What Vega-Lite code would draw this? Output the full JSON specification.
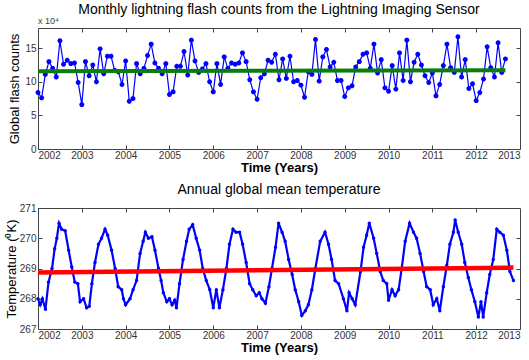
{
  "$schema": "https://vega.github.io/schema/vega-lite/v6.json",
  "padding": {"left": 4, "top": 2, "right": 0, "bottom": 2},
  "background": "white",
  "spacing": 7,
  "config": {
    "font": "Liberation Sans",
    "view": {"stroke": "#444", "strokeWidth": 1},
    "axis": {
      "grid": false, "domain": false, "tickSize": -4, "tickColor": "#444", "labelPadding": 6,
      "labelFont": "Liberation Sans", "labelFontSize": 10, "labelColor": "#333",
      "titleFont": "Liberation Sans", "titleFontSize": 13, "titleFontWeight": "normal", "titleColor": "#000"
    },
    "axisX": {"labelPadding": 5},
    "title": {"font": "Liberation Sans", "fontSize": 14, "fontWeight": "normal", "color": "#000", "offset": 0}
  },
  "datasets": {
    "flash": [
      {"t": 2002.000, "v": 8.4}, {"t": 2002.083, "v": 7.6}, {"t": 2002.167, "v": 11.1}, {"t": 2002.250, "v": 13.0},
      {"t": 2002.333, "v": 12.0}, {"t": 2002.417, "v": 10.7}, {"t": 2002.500, "v": 16.1}, {"t": 2002.583, "v": 12.6},
      {"t": 2002.667, "v": 13.2}, {"t": 2002.750, "v": 12.7}, {"t": 2002.833, "v": 12.8}, {"t": 2002.917, "v": 9.9},
      {"t": 2003.000, "v": 6.6}, {"t": 2003.083, "v": 13.0}, {"t": 2003.167, "v": 10.9}, {"t": 2003.250, "v": 12.5},
      {"t": 2003.333, "v": 10.0}, {"t": 2003.417, "v": 14.9}, {"t": 2003.500, "v": 11.2}, {"t": 2003.583, "v": 13.8},
      {"t": 2003.667, "v": 13.8}, {"t": 2003.750, "v": 11.7}, {"t": 2003.833, "v": 11.5}, {"t": 2003.917, "v": 9.6},
      {"t": 2004.000, "v": 13.1}, {"t": 2004.083, "v": 7.1}, {"t": 2004.167, "v": 7.5}, {"t": 2004.250, "v": 12.7},
      {"t": 2004.333, "v": 11.2}, {"t": 2004.417, "v": 12.0}, {"t": 2004.500, "v": 13.9}, {"t": 2004.583, "v": 15.6},
      {"t": 2004.667, "v": 12.8}, {"t": 2004.750, "v": 12.0}, {"t": 2004.833, "v": 11.2}, {"t": 2004.917, "v": 12.7},
      {"t": 2005.000, "v": 8.1}, {"t": 2005.083, "v": 8.5}, {"t": 2005.167, "v": 12.3}, {"t": 2005.250, "v": 12.3},
      {"t": 2005.333, "v": 14.5}, {"t": 2005.417, "v": 11.0}, {"t": 2005.500, "v": 16.2}, {"t": 2005.583, "v": 13.1},
      {"t": 2005.667, "v": 11.4}, {"t": 2005.750, "v": 11.9}, {"t": 2005.833, "v": 12.7}, {"t": 2005.917, "v": 10.0},
      {"t": 2006.000, "v": 8.5}, {"t": 2006.083, "v": 12.7}, {"t": 2006.167, "v": 9.6}, {"t": 2006.250, "v": 13.7},
      {"t": 2006.333, "v": 12.0}, {"t": 2006.417, "v": 12.8}, {"t": 2006.500, "v": 12.6}, {"t": 2006.583, "v": 12.8},
      {"t": 2006.667, "v": 14.3}, {"t": 2006.750, "v": 13.0}, {"t": 2006.833, "v": 10.3}, {"t": 2006.917, "v": 8.5},
      {"t": 2007.000, "v": 7.4}, {"t": 2007.083, "v": 10.6}, {"t": 2007.167, "v": 11.2}, {"t": 2007.250, "v": 13.2},
      {"t": 2007.333, "v": 12.9}, {"t": 2007.417, "v": 14.1}, {"t": 2007.500, "v": 10.3}, {"t": 2007.583, "v": 13.4},
      {"t": 2007.667, "v": 10.5}, {"t": 2007.750, "v": 13.8}, {"t": 2007.833, "v": 10.0}, {"t": 2007.917, "v": 10.2},
      {"t": 2008.000, "v": 9.5}, {"t": 2008.083, "v": 7.7}, {"t": 2008.167, "v": 11.5}, {"t": 2008.250, "v": 11.1},
      {"t": 2008.333, "v": 16.3}, {"t": 2008.417, "v": 10.1}, {"t": 2008.500, "v": 13.7}, {"t": 2008.583, "v": 14.8},
      {"t": 2008.667, "v": 12.2}, {"t": 2008.750, "v": 12.9}, {"t": 2008.833, "v": 10.2}, {"t": 2008.917, "v": 10.2},
      {"t": 2009.000, "v": 7.8}, {"t": 2009.083, "v": 9.1}, {"t": 2009.167, "v": 9.4}, {"t": 2009.250, "v": 12.2},
      {"t": 2009.333, "v": 13.0}, {"t": 2009.417, "v": 14.1}, {"t": 2009.500, "v": 14.3}, {"t": 2009.583, "v": 12.0},
      {"t": 2009.667, "v": 15.6}, {"t": 2009.750, "v": 11.3}, {"t": 2009.833, "v": 13.3}, {"t": 2009.917, "v": 9.1},
      {"t": 2010.000, "v": 8.6}, {"t": 2010.083, "v": 12.4}, {"t": 2010.167, "v": 8.9}, {"t": 2010.250, "v": 14.3},
      {"t": 2010.333, "v": 10.2}, {"t": 2010.417, "v": 16.2}, {"t": 2010.500, "v": 10.0}, {"t": 2010.583, "v": 12.9},
      {"t": 2010.667, "v": 14.1}, {"t": 2010.750, "v": 12.5}, {"t": 2010.833, "v": 10.9}, {"t": 2010.917, "v": 9.9},
      {"t": 2011.000, "v": 11.3}, {"t": 2011.083, "v": 7.9}, {"t": 2011.167, "v": 9.6}, {"t": 2011.250, "v": 12.4},
      {"t": 2011.333, "v": 15.6}, {"t": 2011.417, "v": 12.1}, {"t": 2011.500, "v": 11.4}, {"t": 2011.583, "v": 16.7},
      {"t": 2011.667, "v": 10.7}, {"t": 2011.750, "v": 13.3}, {"t": 2011.833, "v": 9.0}, {"t": 2011.917, "v": 9.7},
      {"t": 2012.000, "v": 7.2}, {"t": 2012.083, "v": 8.4}, {"t": 2012.167, "v": 10.4}, {"t": 2012.250, "v": 15.2},
      {"t": 2012.333, "v": 12.1}, {"t": 2012.417, "v": 10.7}, {"t": 2012.500, "v": 15.8}, {"t": 2012.583, "v": 11.4},
      {"t": 2012.667, "v": 13.4}
    ],
    "flashTrend": [{"t": 2002.0, "v": 11.55}, {"t": 2012.667, "v": 11.72}],
    "temp": [
      {"t": 2002.00, "v": 268.0}, {"t": 2002.05, "v": 267.8}, {"t": 2002.10, "v": 268.0}, {"t": 2002.17, "v": 267.65},
      {"t": 2002.24, "v": 268.55}, {"t": 2002.32, "v": 269.0}, {"t": 2002.38, "v": 269.65}, {"t": 2002.43, "v": 270.0},
      {"t": 2002.48, "v": 270.5}, {"t": 2002.54, "v": 270.3}, {"t": 2002.62, "v": 270.25}, {"t": 2002.70, "v": 269.6},
      {"t": 2002.77, "v": 269.05}, {"t": 2002.84, "v": 268.55}, {"t": 2002.91, "v": 268.5}, {"t": 2002.96, "v": 267.9},
      {"t": 2003.04, "v": 268.0}, {"t": 2003.11, "v": 267.7}, {"t": 2003.17, "v": 267.75}, {"t": 2003.23, "v": 268.5},
      {"t": 2003.30, "v": 269.2}, {"t": 2003.38, "v": 269.8}, {"t": 2003.45, "v": 270.0}, {"t": 2003.53, "v": 270.3},
      {"t": 2003.59, "v": 270.1}, {"t": 2003.68, "v": 269.6}, {"t": 2003.76, "v": 269.0}, {"t": 2003.83, "v": 268.4},
      {"t": 2003.91, "v": 268.3}, {"t": 2003.95, "v": 268.0}, {"t": 2004.00, "v": 267.8}, {"t": 2004.10, "v": 268.0},
      {"t": 2004.17, "v": 268.3}, {"t": 2004.25, "v": 268.6}, {"t": 2004.33, "v": 269.5}, {"t": 2004.40, "v": 269.9},
      {"t": 2004.45, "v": 270.2}, {"t": 2004.52, "v": 270.0}, {"t": 2004.60, "v": 270.05}, {"t": 2004.67, "v": 269.6},
      {"t": 2004.75, "v": 269.0}, {"t": 2004.81, "v": 268.6}, {"t": 2004.86, "v": 268.2}, {"t": 2004.94, "v": 267.9},
      {"t": 2005.00, "v": 268.0}, {"t": 2005.06, "v": 267.8}, {"t": 2005.12, "v": 267.95}, {"t": 2005.16, "v": 267.7},
      {"t": 2005.23, "v": 268.5}, {"t": 2005.31, "v": 269.3}, {"t": 2005.39, "v": 269.9}, {"t": 2005.45, "v": 270.3},
      {"t": 2005.53, "v": 270.45}, {"t": 2005.61, "v": 270.0}, {"t": 2005.69, "v": 269.6}, {"t": 2005.76, "v": 269.0},
      {"t": 2005.84, "v": 268.6}, {"t": 2005.92, "v": 268.3}, {"t": 2006.00, "v": 267.7}, {"t": 2006.07, "v": 268.3},
      {"t": 2006.14, "v": 267.7}, {"t": 2006.22, "v": 268.3}, {"t": 2006.30, "v": 269.0}, {"t": 2006.37, "v": 269.8},
      {"t": 2006.45, "v": 270.3}, {"t": 2006.52, "v": 270.2}, {"t": 2006.60, "v": 270.2}, {"t": 2006.67, "v": 269.8},
      {"t": 2006.75, "v": 269.2}, {"t": 2006.83, "v": 268.5}, {"t": 2006.90, "v": 268.3}, {"t": 2006.98, "v": 268.1},
      {"t": 2007.05, "v": 268.2}, {"t": 2007.11, "v": 268.0}, {"t": 2007.19, "v": 267.85}, {"t": 2007.27, "v": 268.4},
      {"t": 2007.34, "v": 269.0}, {"t": 2007.42, "v": 269.7}, {"t": 2007.49, "v": 270.5}, {"t": 2007.57, "v": 270.2},
      {"t": 2007.64, "v": 269.9}, {"t": 2007.72, "v": 269.3}, {"t": 2007.80, "v": 268.8}, {"t": 2007.87, "v": 268.3},
      {"t": 2007.95, "v": 267.9}, {"t": 2008.02, "v": 267.45}, {"t": 2008.10, "v": 267.6}, {"t": 2008.17, "v": 267.8},
      {"t": 2008.25, "v": 268.3}, {"t": 2008.33, "v": 269.0}, {"t": 2008.44, "v": 269.9}, {"t": 2008.55, "v": 270.2},
      {"t": 2008.63, "v": 269.8}, {"t": 2008.70, "v": 269.3}, {"t": 2008.78, "v": 268.6}, {"t": 2008.86, "v": 268.5},
      {"t": 2008.97, "v": 268.0}, {"t": 2009.05, "v": 267.6}, {"t": 2009.10, "v": 268.2}, {"t": 2009.17, "v": 268.0},
      {"t": 2009.24, "v": 267.8}, {"t": 2009.36, "v": 268.9}, {"t": 2009.43, "v": 269.7}, {"t": 2009.50, "v": 270.1},
      {"t": 2009.56, "v": 270.5}, {"t": 2009.66, "v": 270.0}, {"t": 2009.73, "v": 269.5}, {"t": 2009.81, "v": 268.9},
      {"t": 2009.88, "v": 268.6}, {"t": 2009.96, "v": 268.5}, {"t": 2010.00, "v": 267.95}, {"t": 2010.08, "v": 268.3},
      {"t": 2010.15, "v": 268.1}, {"t": 2010.23, "v": 268.3}, {"t": 2010.30, "v": 269.0}, {"t": 2010.38, "v": 269.9},
      {"t": 2010.48, "v": 270.5}, {"t": 2010.57, "v": 270.2}, {"t": 2010.64, "v": 270.0}, {"t": 2010.72, "v": 269.5},
      {"t": 2010.80, "v": 268.9}, {"t": 2010.87, "v": 268.4}, {"t": 2010.95, "v": 268.3}, {"t": 2011.02, "v": 267.8},
      {"t": 2011.10, "v": 268.0}, {"t": 2011.17, "v": 267.6}, {"t": 2011.25, "v": 268.4}, {"t": 2011.33, "v": 269.1},
      {"t": 2011.40, "v": 269.8}, {"t": 2011.48, "v": 270.2}, {"t": 2011.52, "v": 270.6}, {"t": 2011.59, "v": 270.2},
      {"t": 2011.67, "v": 269.8}, {"t": 2011.74, "v": 269.2}, {"t": 2011.82, "v": 268.7}, {"t": 2011.89, "v": 268.3},
      {"t": 2011.97, "v": 267.9}, {"t": 2012.05, "v": 267.4}, {"t": 2012.11, "v": 267.9}, {"t": 2012.16, "v": 267.4},
      {"t": 2012.24, "v": 268.2}, {"t": 2012.31, "v": 268.8}, {"t": 2012.39, "v": 269.3}, {"t": 2012.47, "v": 270.3},
      {"t": 2012.54, "v": 270.2}, {"t": 2012.62, "v": 270.1}, {"t": 2012.70, "v": 269.6}, {"t": 2012.77, "v": 268.9},
      {"t": 2012.85, "v": 268.6}
    ],
    "tempTrend": [{"t": 2002.0, "v": 268.87}, {"t": 2012.85, "v": 269.03}]
  },
  "vconcat": [
    {
      "title": {"text": "Monthly lightning flash counts from the Lightning Imaging Sensor", "offset": 0},
      "width": 482,
      "height": 121,
      "layer": [
        {
          "data": {"name": "flash"},
          "mark": {"type": "line", "color": "#0000ff", "strokeWidth": 1.2,
                   "point": {"shape": "M-1,0L1,0M0,-1L0,1M-0.7,-0.7L0.7,0.7M-0.7,0.7L0.7,-0.7", "filled": false, "stroke": "#0000ff", "strokeWidth": 1.6, "size": 24}},
          "encoding": {
            "x": {"field": "t", "type": "quantitative", "scale": {"domain": [2002, 2013], "nice": false, "zero": false},
                  "axis": {"orient": "bottom", "values": [2002, 2003, 2004, 2005, 2006, 2007, 2008, 2009, 2010, 2011, 2012, 2013], "format": "d", "title": "Time (Years)", "titleFontWeight": "bold", "titlePadding": 1}},
            "y": {"field": "v", "type": "quantitative", "scale": {"domain": [0, 18], "nice": false},
                  "axis": {"orient": "left", "values": [0, 5, 10, 15], "title": "Global flash counts", "titlePadding": 3}}
          }
        },
        {
          "data": {"name": "flashTrend"},
          "mark": {"type": "line", "color": "#0b7d0b", "strokeWidth": 4},
          "encoding": {
            "x": {"field": "t", "type": "quantitative", "axis": {"orient": "top", "values": [2003, 2004, 2005, 2006, 2007, 2008, 2009, 2010, 2011, 2012], "labels": false, "title": null}},
            "y": {"field": "v", "type": "quantitative", "axis": {"orient": "right", "values": [5, 10, 15], "labels": false, "title": null}}
          }
        },
        {
          "data": {"values": [{}]},
          "mark": {"type": "text", "text": "x 10\u2074", "align": "left", "baseline": "bottom", "dy": -2, "fontSize": 9, "color": "#444"},
          "encoding": {
            "x": {"datum": 2002, "type": "quantitative", "axis": null},
            "y": {"datum": 18, "type": "quantitative", "axis": null}
          }
        }
      ],
      "resolve": {"axis": {"x": "independent", "y": "independent"}}
    },
    {
      "title": {"text": "Annual global mean temperature", "offset": 6},
      "width": 482,
      "height": 121,
      "layer": [
        {
          "data": {"name": "temp"},
          "mark": {"type": "line", "color": "#0000ff", "strokeWidth": 2.2,
                   "point": {"filled": true, "color": "#0000ff", "size": 12}},
          "encoding": {
            "x": {"field": "t", "type": "quantitative", "scale": {"domain": [2002, 2013], "nice": false, "zero": false},
                  "axis": {"orient": "bottom", "values": [2002, 2003, 2004, 2005, 2006, 2007, 2008, 2009, 2010, 2011, 2012, 2013], "format": "d", "title": "Time (Years)", "titleFontWeight": "bold", "titlePadding": 1}},
            "y": {"field": "v", "type": "quantitative", "scale": {"domain": [267, 271], "nice": false, "zero": false},
                  "axis": {"orient": "left", "values": [267, 268, 269, 270, 271], "title": "Temperature (\u2070K)", "titlePadding": 1}}
          }
        },
        {
          "data": {"name": "tempTrend"},
          "mark": {"type": "line", "color": "#ff0000", "strokeWidth": 4.5},
          "encoding": {
            "x": {"field": "t", "type": "quantitative", "axis": {"orient": "top", "values": [2003, 2004, 2005, 2006, 2007, 2008, 2009, 2010, 2011, 2012], "labels": false, "title": null}},
            "y": {"field": "v", "type": "quantitative", "axis": {"orient": "right", "values": [268, 269, 270], "labels": false, "title": null}}
          }
        }
      ],
      "resolve": {"axis": {"x": "independent", "y": "independent"}}
    }
  ]
}
